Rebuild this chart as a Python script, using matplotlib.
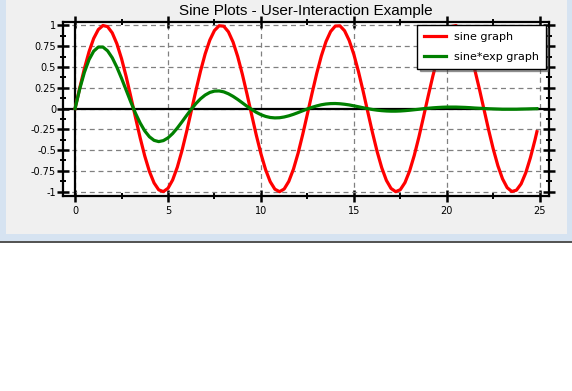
import numpy as np
import matplotlib
matplotlib.use("Agg")
import matplotlib.pyplot as plt
from matplotlib.patches import Rectangle
from matplotlib.ticker import MultipleLocator, FuncFormatter

plt.rcParams['axes.unicode_minus'] = False
plt.rcParams['font.family'] = ['DejaVu Sans']

# sample points (step 0.25, last point where the curves stop)
x = list(np.arange(0, 25, 0.25)) + [24.85]

sine = [0.000, 0.247, 0.479, 0.682, 0.842, 0.949, 0.998, 0.984, 0.909, 0.778,
        0.599, 0.382, 0.141, -0.108, -0.351, -0.572, -0.757, -0.895, -0.978, -0.999,
        -0.959, -0.859, -0.706, -0.508, -0.279, -0.033, 0.215, 0.450, 0.657, 0.823,
        0.938, 0.995, 0.989, 0.922, 0.799, 0.625, 0.412, 0.174, -0.075, -0.320,
        -0.544, -0.735, -0.880, -0.970, -1.000, -0.968, -0.876, -0.729, -0.537, -0.310,
        -0.066, 0.183, 0.420, 0.632, 0.804, 0.926, 0.991, 0.994, 0.935, 0.818,
        0.650, 0.442, 0.207, -0.042, -0.288, -0.516, -0.712, -0.864, -0.961, -1.000,
        -0.976, -0.891, -0.751, -0.564, -0.343, -0.099, 0.150, 0.390, 0.606, 0.784,
        0.913, 0.986, 0.997, 0.946, 0.837, 0.675, 0.472, 0.239, -0.009, -0.256,
        -0.487, -0.688, -0.846, -0.952, -0.998, -0.982, -0.906, -0.773, -0.591, -0.374,
        -0.279]

sine_exp = [0.000, 0.235, 0.434, 0.587, 0.689, 0.739, 0.739, 0.693, 0.610, 0.496,
            0.363, 0.220, 0.077, -0.057, -0.174, -0.270, -0.340, -0.383, -0.398, -0.386,
            -0.353, -0.301, -0.235, -0.161, -0.084, -0.010, 0.059, 0.117, 0.162, 0.193,
            0.209, 0.211, 0.200, 0.177, 0.146, 0.109, 0.068, 0.027, -0.011, -0.046,
            -0.074, -0.095, -0.108, -0.113, -0.111, -0.102, -0.088, -0.070, -0.049, -0.027,
            -0.005, 0.014, 0.031, 0.045, 0.054, 0.059, 0.060, 0.057, 0.051, 0.043,
            0.032, 0.021, 0.009, -0.002, -0.012, -0.020, -0.026, -0.030, -0.032, -0.032,
            -0.030, -0.026, -0.021, -0.015, -0.009, -0.002, 0.003, 0.008, 0.012, 0.015,
            0.017, 0.017, 0.017, 0.015, 0.013, 0.010, 0.006, 0.003, 0.000, -0.003,
            -0.005, -0.007, -0.009, -0.009, -0.009, -0.009, -0.007, -0.006, -0.004, -0.003,
            -0.002]

W, H = 572, 391
fig = plt.figure(figsize=(W / 100, H / 100), dpi=100)
fig.patch.set_facecolor('white')

# window frame
fig.patches.append(Rectangle((0, 1 - 241 / H), 1, 241 / H, transform=fig.transFigure,
                             facecolor='#d6e3f1', edgecolor='none', zorder=-3))
fig.patches.append(Rectangle((6 / W, 1 - 234 / H), 561 / W, 234 / H, transform=fig.transFigure,
                             facecolor='#f0f0f0', edgecolor='none', zorder=-2))
fig.patches.append(Rectangle((0, 1 - 243 / H), 1, 2 / H, transform=fig.transFigure,
                             facecolor='#555555', edgecolor='none', zorder=-2))

ax = fig.add_axes([63 / W, 1 - 196 / H, 486 / W, 174 / H])
ax.set_facecolor('white')

ax.plot(x, sine, color='#ff0000', lw=2.3, label='sine graph', zorder=4)
ax.plot(x, sine_exp, color='#008000', lw=2.3, label='sine*exp graph', zorder=4)

ax.axhline(0, color='black', lw=1.6, zorder=3)
ax.axvline(0, color='black', lw=1.6, zorder=3)

ax.set_xlim(-0.65, 25.5)
ax.set_ylim(-1.052, 1.04)

ax.xaxis.set_major_locator(MultipleLocator(5))
ax.xaxis.set_minor_locator(MultipleLocator(2.5))
ax.yaxis.set_major_locator(MultipleLocator(0.25))
ax.yaxis.set_minor_locator(MultipleLocator(0.125))
ax.yaxis.set_major_formatter(FuncFormatter(lambda v, p: '%g' % v))

ax.grid(True, which='major', color='#808080', lw=0.9, linestyle=(0, (4, 3)), zorder=1)
ax.set_axisbelow(True)

for s in ax.spines.values():
    s.set_linewidth(1.6)
ax.tick_params(which='both', direction='inout', top=True, right=True, color='black')
ax.tick_params(which='major', length=8, width=1.8, labelsize=7, pad=1)
ax.tick_params(which='minor', length=4, width=1.4)
ax.tick_params(axis='x', which='major', pad=3)

ax.set_title('Sine Plots - User-Interaction Example', fontsize=11,
             family='Liberation Sans', pad=5)

leg = ax.legend(loc='upper right', fontsize=8, fancybox=False, shadow=True,
                edgecolor='black', framealpha=1, borderaxespad=0.3,
                handlelength=2.0, handletextpad=0.7, labelspacing=0.9, borderpad=0.6)
leg.get_frame().set_linewidth(1.0)

fig.savefig('out.png', dpi=100)
